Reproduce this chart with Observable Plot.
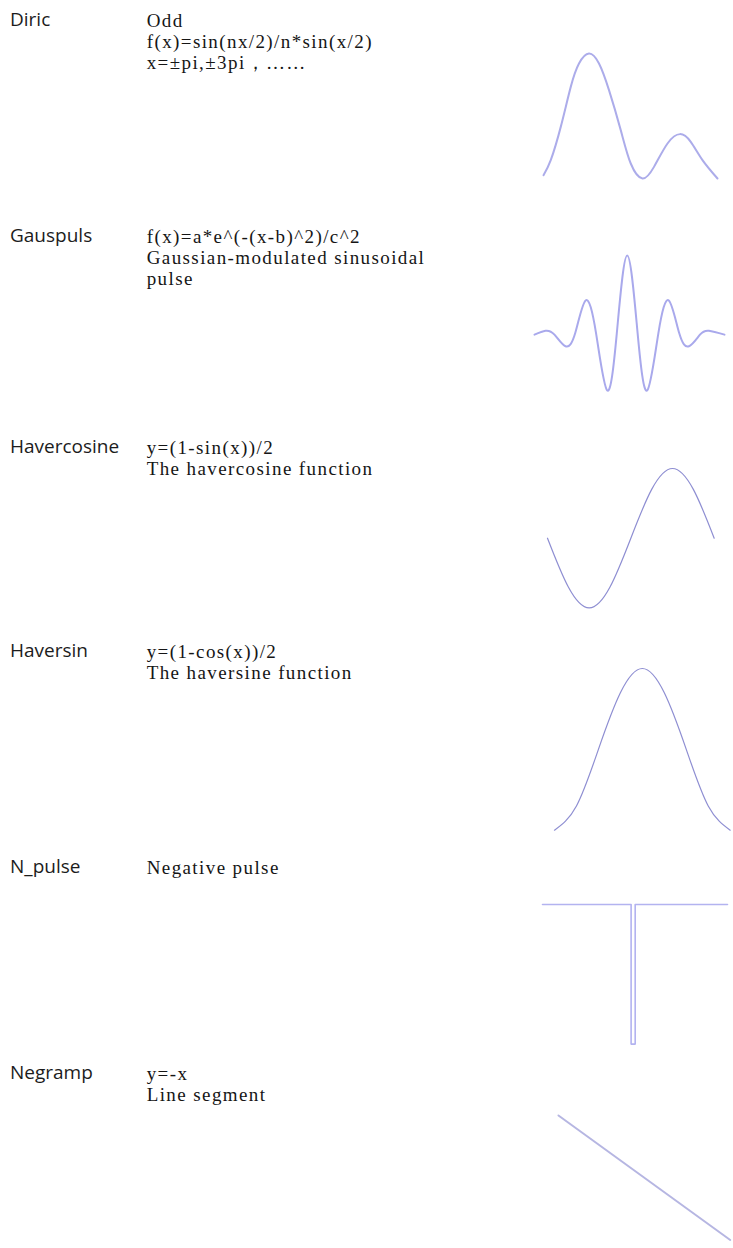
<!DOCTYPE html>
<html><head><meta charset="utf-8">
<script src="https://cdn.jsdelivr.net/npm/d3@7"></script>
<script src="https://cdn.jsdelivr.net/npm/@observablehq/plot@0.6"></script>
<style>
html,body{margin:0;padding:0;background:#fff;}
#page{position:relative;width:733px;height:1248px;overflow:hidden;background:#fff;}
.label{position:absolute;left:10px;font-family:"Open Sans",sans-serif;font-size:19px;color:#1c1c1c;line-height:21.3px;white-space:nowrap;}
.desc{position:absolute;left:146.7px;font-family:"Liberation Serif",serif;font-size:19px;letter-spacing:1.4px;color:#151515;line-height:21.3px;white-space:nowrap;}
.wave{position:absolute;}
.wave svg{display:block;background:transparent;}
</style></head>
<body><div id="page"></div>
<script>
// ---- text content ----
const names = ["Diric", "Gauspuls", "Havercosine", "Haversin", "N_pulse", "Negramp"];
const descriptions = [
  ["Odd", "f(x)=sin(nx/2)/n*sin(x/2)", "x=±pi,±3pi，……"],
  ["f(x)=a*e^(-(x-b)^2)/c^2", "Gaussian-modulated sinusoidal", "pulse"],
  ["y=(1-sin(x))/2", "The havercosine function"],
  ["y=(1-cos(x))/2", "The haversine function"],
  ["Negative pulse"],
  ["y=-x", "Line segment"]
];

// ---- waveform values ----
const diricX = [0, 0.29, 0.69, 1.09, 1.42, 1.82, 2.22, 2.62, 3.09, 3.49, 3.96, 4.42, 4.96, 5.46, 5.89, 6.36, 6.96];
const diricY = [0.026, 0.147, 0.413, 0.733, 0.92, 1.0, 0.92, 0.707, 0.387, 0.12, 0, 0.093, 0.28, 0.355, 0.293, 0.147, 0];

const gausX = [-4.46, -3.93, -3.5, -2.97, -2.5, -2.0, -1.5, -0.96, -0.5, 0, 0.5, 0.96, 1.5, 2.0, 2.5, 2.97, 3.5, 3.93, 4.68];
const gausY = [-0.02, 0.03, -0.02, -0.17, 0, 0.42, 0, -0.74, 0, 1.0, 0, -0.74, 0, 0.42, 0, -0.17, -0.02, 0.03, -0.02];

const havercosX = [0, 1, 2, 3, 4, 5, 6, 7, 8];
const havercosY = [0.5, 0.15, 0, 0.15, 0.5, 0.85, 1, 0.85, 0.5];

const haversinX = [0, 1, 2, 3, 4, 5, 6, 7, 8];
const haversinY = [0, 0.15, 0.5, 0.85, 1, 0.85, 0.5, 0.15, 0];

const npulseX = [0, 47.9, 47.9, 50.1, 50.1, 100];
const npulseY = [0, 0, -1, -1, 0, 0];

const negrampX = [-1, 1];
const negrampY = [1, -1];

// ---- layout (page pixels) ----
const baselines = [26.7, 242.5, 454, 658, 874, 1080];
const waves = [
  {xs: diricX, ys: diricY, x0: 542.7, x1: 716.7, yTop: 53.3, yBot: 178.3, xd: [0, 6.96], yd: [0, 1], curve: "natural", stroke: "#acacea", sw: 2},
  {xs: gausX, ys: gausY, x0: 534, x1: 724, yTop: 255, yBot: 390, xd: [-4.46, 4.68], yd: [-0.74, 1], curve: "natural", stroke: "#a9a9ec", sw: 2},
  {xs: havercosX, ys: havercosY, x0: 547.3, x1: 714, yTop: 468.3, yBot: 607.7, xd: [0, 8], yd: [0, 1], curve: "natural", stroke: "#8e8ed2", sw: 1.2},
  {xs: haversinX, ys: haversinY, x0: 554.3, x1: 730, yTop: 668.3, yBot: 830, xd: [0, 8], yd: [0, 1], curve: "natural", stroke: "#8e8ed2", sw: 1.2},
  {xs: npulseX, ys: npulseY, x0: 542.3, x1: 727.3, yTop: 903.7, yBot: 1043.3, xd: [0, 100], yd: [-1, 0], curve: "linear", stroke: "#b3b3f0", sw: 1.6},
  {xs: negrampX, ys: negrampY, x0: 558.3, x1: 733, yTop: 1115, yBot: 1241.7, xd: [-1, 1], yd: [-1, 1], curve: "linear", stroke: "#b6b6e2", sw: 2}
];

const page = document.getElementById("page");

names.forEach((name, i) => {
  const b = baselines[i];
  const lab = document.createElement("div");
  lab.className = "label";
  lab.style.top = (b - 18.0) + "px";
  lab.textContent = name;
  page.appendChild(lab);
  const d = document.createElement("div");
  d.className = "desc";
  d.style.top = (b - 17.0) + "px";
  descriptions[i].forEach(t => {
    const l = document.createElement("div");
    l.textContent = t;
    d.appendChild(l);
  });
  page.appendChild(d);
});

const m = 3;
waves.forEach(w => {
  const data = w.xs.map((x, i) => ({x, y: w.ys[i]}));
  const width = (w.x1 - w.x0) + 2 * m;
  const height = (w.yBot - w.yTop) + 2 * m;
  const svg = Plot.plot({
    width, height,
    marginTop: m, marginBottom: m, marginLeft: m, marginRight: m,
    x: {domain: w.xd, axis: null},
    y: {domain: w.yd, axis: null},
    style: {background: "transparent", overflow: "visible"},
    marks: [
      Plot.line(data, {x: "x", y: "y", curve: w.curve, stroke: w.stroke, strokeWidth: w.sw, strokeLinejoin: "round", strokeLinecap: "round"})
    ]
  });
  const holder = document.createElement("div");
  holder.className = "wave";
  holder.style.left = (w.x0 - m) + "px";
  holder.style.top = (w.yTop - m) + "px";
  holder.appendChild(svg);
  page.appendChild(holder);
});
</script>
</body></html>
